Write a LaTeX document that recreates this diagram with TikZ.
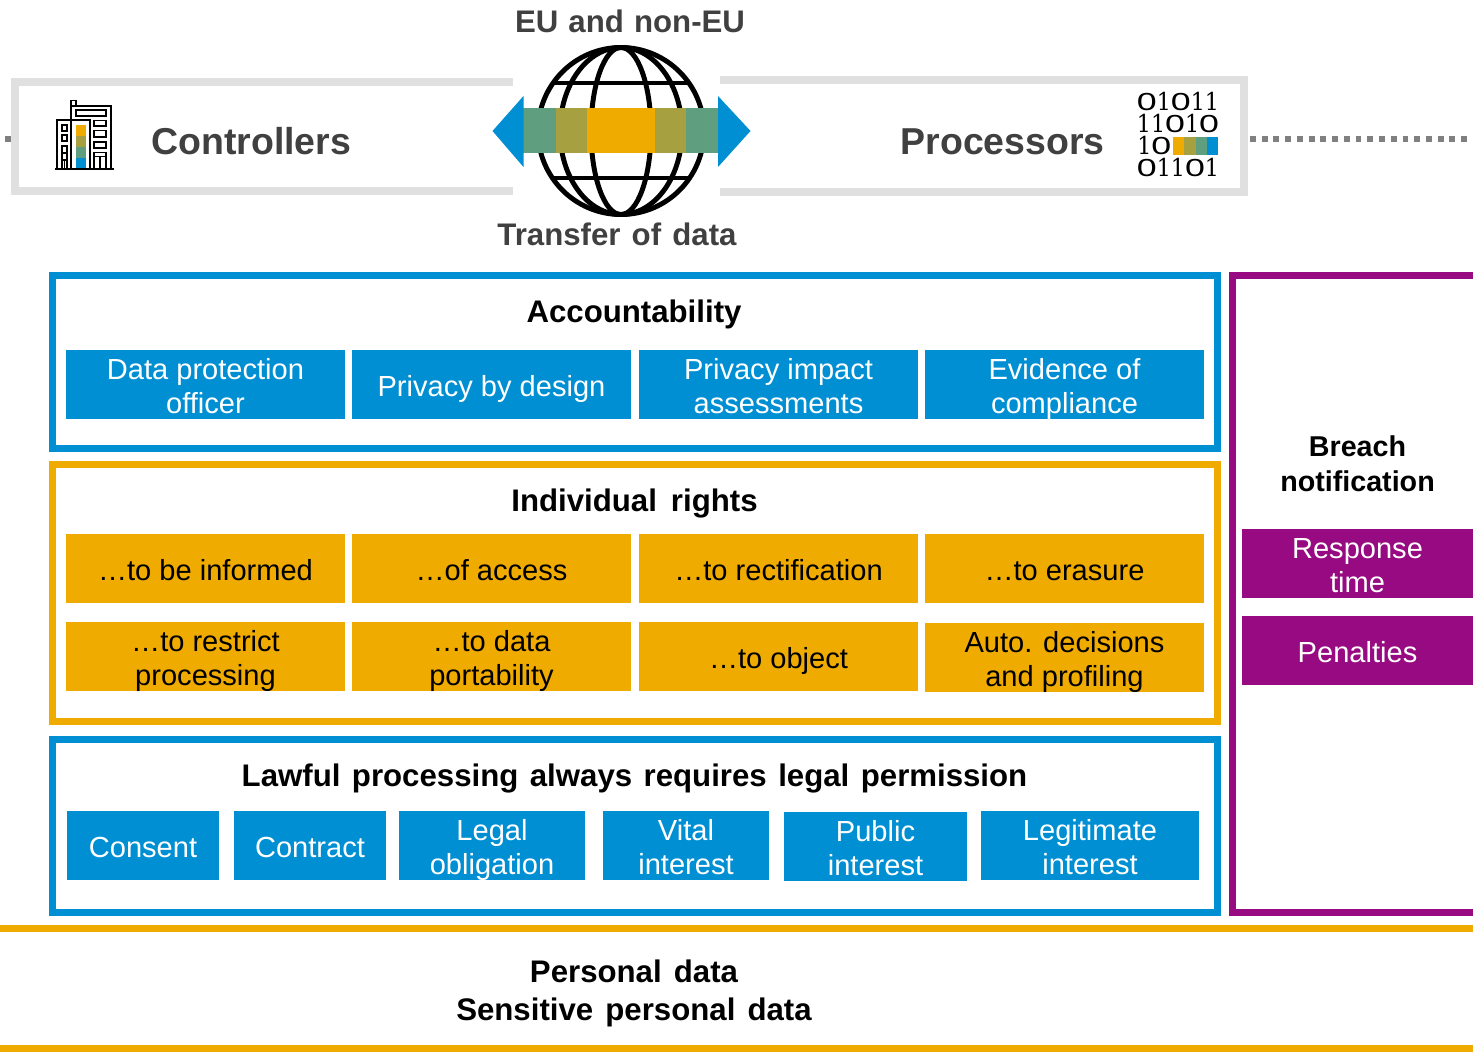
\documentclass[tikz,border=0pt]{standalone}
\usepackage{fontspec}
\usepackage{graphicx}
\setmainfont{Liberation Sans}
\newfontfamily\slabfont{DejaVu Serif}
\definecolor{sapblue}{HTML}{008FD3}
\definecolor{saporange}{HTML}{F0AB00}
\definecolor{sappurple}{HTML}{970A82}
\definecolor{sapgrey}{HTML}{E0E0E0}
\definecolor{sapdots}{HTML}{808080}
\definecolor{sapgreen}{HTML}{5F9E7E}
\definecolor{sapolive}{HTML}{A7A040}
\definecolor{sapdark}{HTML}{404040}
\newcommand\fsz[1]{\fontsize{#1}{25.5}\selectfont}
\newcommand\tl[1]{\rule[-3.4pt]{0pt}{25.5pt}\smash{#1}}
\newcommand\pbox[7]{\node[#6,minimum width={(#4-#2)*0.75pt},minimum height={(#5-#3)*0.75pt}] (#1) at ({(#2+#4)/2},{(#3+#5)/2}) {#7};}
\newcommand\zd{\scalebox{1.45}[1]{0}}
\newcommand\od{\scalebox{0.9}[1]{\slabfont 1}}
\tikzset{
  x=0.75pt,y=-0.75pt,
  fillbox/.style={inner sep=0pt,outer sep=0pt,align=center,font=\fsz{21.8}},
  bluebox/.style={fillbox,fill=sapblue,text=white},
  orangebox/.style={fillbox,fill=saporange,text=black},
  purplebox/.style={fillbox,fill=sappurple,text=white},
  frameblue/.style={draw=sapblue,line width=5.25pt},
  frameorange/.style={draw=saporange,line width=5.25pt},
  framepurple/.style={draw=sappurple,line width=5.25pt},
  framegrey/.style={draw=sapgrey,line width=6pt},
  headtext/.style={inner sep=0pt,anchor=base,font=\fsz{23.4}\bfseries,text=black},
  greyhead/.style={inner sep=0pt,anchor=base,font=\fsz{23.4}\bfseries,text=sapdark},
  bighead/.style={inner sep=0pt,font=\fsz{28.1}\bfseries,text=sapdark},
  globeline/.style={draw=black,line width=3.7pt},
  globepar/.style={draw=black,line width=3pt},
  iconline/.style={draw=black,line width=0.9pt},
  bits/.style={inner sep=0pt,font=\fontsize{18.5}{20}\selectfont,text=black},
  dots/.style={draw=sapdots,line width=4.4pt,dash pattern=on 4.4pt off 4.4pt}
}
\begin{document}
\begin{tikzpicture}
\useasboundingbox (0,0) rectangle (1473,1053);
% top frames
\draw[framegrey] (513,82) -- (15,82) -- (15,191) -- (513,191);
\draw[framegrey] (720,80) -- (1244,80) -- (1244,192) -- (720,192);
\coordinate (dotsL) at (5,139);
\coordinate (dotsLend) at (11,139);
\coordinate (dotsR) at (1250,139);
\coordinate (dotsRend) at (1473,139);
\draw[dots] (dotsL) -- (dotsLend);
\draw[dots] (dotsR) -- (dotsRend);
\node[bighead,anchor=base west] (controllers) at (151,154) {Controllers};
\node[bighead,anchor=base east] (processors) at (1105,154) {Processors};
% building icon
\fill[saporange] (75.5,125) rectangle (86,136);
\fill[sapolive] (75.5,136) rectangle (86,147);
\fill[sapgreen] (75.5,147) rectangle (86,158);
\fill[sapblue] (75.5,158) rectangle (86,169);
\draw[iconline] (55,169) -- (114,169);
\draw[iconline] (57,169) -- (57,120) -- (71,120);
\draw[iconline] (71,169) -- (71,100.5) -- (76,100.5) -- (76,106);
\draw[iconline] (71,106) -- (111,106) -- (111,169);
\draw[iconline] (76,110) rectangle (106,116);
\draw[iconline] (71,120) -- (90,120) -- (90,169);
\draw[iconline] (94,120.5) rectangle (106,126);
\draw[iconline] (94,130.5) rectangle (106,137);
\draw[iconline] (94,142) rectangle (106,148);
\draw[iconline] (94,169) -- (94,152.5) -- (106,152.5) -- (106,169);
\draw[iconline] (94,156.5) -- (106,156.5) (100,156.5) -- (100,169);
\draw[iconline] (62,125) rectangle (67,131);
\draw[iconline] (62,135) rectangle (67,141);
\draw[iconline] (62,146) rectangle (67,160);
\draw[iconline] (62,153) -- (67,153) (64.5,160) -- (64.5,169) (62,160) -- (62,169) (67,160) -- (67,169);
% bits icon
\node[bits,anchor=base] (bitsA) at (1178,110) {\zd\od\zd\od\od};
\node[bits,anchor=base] (bitsB) at (1178,132) {\od\od\zd\od\zd};
\node[bits,anchor=base west] (bitsC) at (1137,154) {\od\zd};
\node[bits,anchor=base] (bitsD) at (1178,176) {\zd\od\od\zd\od};
\fill[saporange] (1173,137) rectangle (1184,155);
\fill[sapolive] (1184,137) rectangle (1196,155);
\fill[sapgreen] (1196,137) rectangle (1207,155);
\fill[sapblue] (1207,137) rectangle (1218,155);
% globe
\draw[globeline] (621,131) ellipse [x radius=83,y radius=83.5];
\draw[globeline] (621,131) ellipse [x radius=30,y radius=83.5];
\draw[globeline] (621,131) ellipse [x radius=61,y radius=83.5];
\draw[globepar] (552,83) -- (688,83);
\draw[globepar] (552,178) -- (688,178);
\fill[sapgreen] (523,108) rectangle (556,153);
\fill[sapolive] (556,108) rectangle (587,153);
\fill[saporange] (587,108) rectangle (655,153);
\fill[sapolive] (655,108) rectangle (686,153);
\fill[sapgreen] (686,108) rectangle (718,153);
\fill[sapblue] (492.5,131) -- (523.5,96) -- (523.5,167) -- cycle;
\fill[sapblue] (750.5,131) -- (718,96) -- (718,167) -- cycle;
\node[greyhead] (eu) at (630,32) {\spaceskip=7.6pt EU and non-EU};
\node[greyhead] (transfer) at (617,245) {\spaceskip=8.4pt Transfer of data};
% frames
\draw[frameblue] (52.5,275.5) rectangle (1217.5,448.5);
\draw[frameorange] (52.5,464.5) rectangle (1217.5,721);
\draw[frameblue] (52.5,739.5) rectangle (1217.5,912.5);
\draw[framepurple] (1473,275.5) -- (1232.5,275.5) -- (1232.5,912.5) -- (1473,912.5);
\draw[draw=saporange,line width=5.25pt] (0,928.5) -- (1473,928.5);
\draw[draw=saporange,line width=5.25pt] (0,1048.5) -- (1473,1048.5);
% accountability
\node[headtext] (acc) at (634,322) {Accountability};
\pbox{a1}{66}{350}{345}{419}{bluebox}{\tl{Data protection}\\\tl{officer}}
\pbox{a2}{352}{350}{631}{419}{bluebox}{\tl{Privacy by design}}
\pbox{a3}{639}{350}{918}{419}{bluebox}{\tl{Privacy impact}\\\tl{assessments}}
\pbox{a4}{925}{350}{1204}{419}{bluebox}{\tl{Evidence of}\\\tl{compliance}}
% rights
\node[headtext] (ind) at (634.5,511) {\spaceskip=10.5pt Individual rights};
\pbox{r1}{66}{534}{345}{603}{orangebox}{\tl{…to be informed}}
\pbox{r2}{352}{534}{631}{603}{orangebox}{\tl{…of access}}
\pbox{r3}{639}{534}{918}{603}{orangebox}{\tl{…to rectification}}
\pbox{r4}{925}{534}{1204}{603}{orangebox}{\tl{…to erasure}}
\pbox{r5}{66}{622}{345}{691}{orangebox}{\tl{…to restrict}\\\tl{processing}}
\pbox{r6}{352}{622}{631}{691}{orangebox}{\tl{…to data}\\\tl{portability}}
\pbox{r7}{639}{622}{918}{691}{orangebox}{\tl{…to object}}
\pbox{r8}{925}{623}{1204}{692}{orangebox}{\tl{Auto. decisions}\\\tl{and profiling}}
% lawful
\node[headtext] (law) at (634.5,786) {\spaceskip=8.6pt Lawful processing always requires legal permission};
\pbox{l1}{67}{811}{219}{880}{bluebox}{\tl{Consent}}
\pbox{l2}{234}{811}{386}{880}{bluebox}{\tl{Contract}}
\pbox{l3}{399}{811}{585}{880}{bluebox}{\tl{Legal}\\\tl{obligation}}
\pbox{l4}{603}{811}{769}{880}{bluebox}{\tl{Vital}\\\tl{interest}}
\pbox{l5}{784}{812}{967}{881}{bluebox}{\tl{Public}\\\tl{interest}}
\pbox{l6}{981}{811}{1199}{880}{bluebox}{\tl{Legitimate}\\\tl{interest}}
% breach
\node[headtext,font=\fsz{21.5}\bfseries] (breachA) at (1357.5,456) {Breach};
\node[headtext,font=\fsz{21.5}\bfseries] (breachB) at (1357.5,491) {notification};
\pbox{b1}{1242}{529}{1473}{598}{purplebox}{\tl{Response}\\\tl{time}}
\pbox{b2}{1242}{616}{1473}{685}{purplebox}{\tl{Penalties}}
% personal data
\node[headtext] (pdA) at (634,982) {\spaceskip=9.1pt Personal data};
\node[headtext] (pdB) at (634,1020) {\spaceskip=9.1pt Sensitive personal data};
\end{tikzpicture}
\end{document}
